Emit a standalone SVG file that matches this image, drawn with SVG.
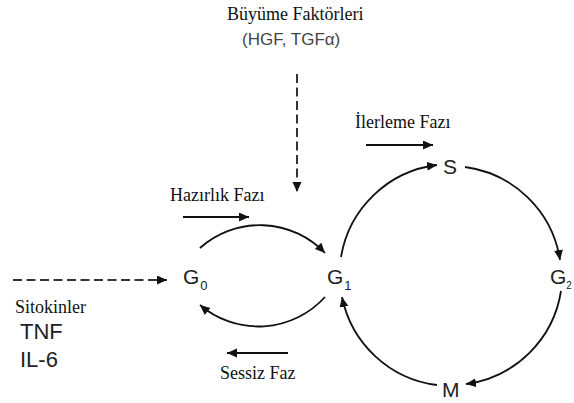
<svg xmlns="http://www.w3.org/2000/svg" width="574" height="403" viewBox="0 0 574 403">
  <style>
    .serif { font-family: "Liberation Serif", "Times New Roman", serif; font-size: 18px; fill: #111; }
    .sans { font-family: "Liberation Sans", Arial, sans-serif; fill: #222; }
    .node { font-size: 21px; }
    .sub { font-size: 13px; }
    .conn { fill: none; stroke: #111; stroke-width: 1.8; }
    .dash { fill: none; stroke: #333; stroke-width: 2; stroke-dasharray: 9 4.5; }
  </style>
  <defs>
    <marker id="ah" markerUnits="userSpaceOnUse" markerWidth="11" markerHeight="10" refX="10" refY="4.5" orient="auto">
      <path d="M0,0 L10,4.5 L0,9 z" fill="#111"/>
    </marker>
  </defs>

  <rect width="574" height="403" fill="#fff"/>

  <g id="labels">
    <text class="serif" x="227" y="20">Büyüme Faktörleri</text>
    <text class="sans" x="242" y="45" font-size="17" style="fill:#444">(HGF, TGFα)</text>
    <text class="serif" x="355" y="128">İlerleme Fazı</text>
    <text class="serif" x="170" y="201">Hazırlık Fazı</text>
    <text class="serif" x="220" y="379">Sessiz Faz</text>
    <text class="serif" x="15" y="313">Sitokinler</text>
    <text class="sans" x="20" y="339" font-size="22">TNF</text>
    <text class="sans" x="20" y="367" font-size="22">IL-6</text>
  </g>

  <g id="node-G0">
    <text class="sans node" x="183" y="284">G<tspan class="sub" dy="6" dx="1">0</tspan></text>
  </g>
  <g id="node-G1">
    <text class="sans node" x="327" y="284">G<tspan class="sub" dy="6" dx="1">1</tspan></text>
  </g>
  <g id="node-S">
    <text class="sans node" x="443" y="174">S</text>
  </g>
  <g id="node-G2">
    <text class="sans node" x="550" y="284">G<tspan font-size="10" dy="5">2</tspan></text>
  </g>
  <g id="node-M">
    <text class="sans node" x="442" y="397">M</text>
  </g>

  <g id="connectors">
    <path class="dash" d="M297,74 L297,192" marker-end="url(#ah)"/>
    <path class="dash" d="M13,280 L167,280" marker-end="url(#ah)"/>
    <path class="conn" d="M183,217 L249,217" marker-end="url(#ah)"/>
    <path class="conn" d="M366,145 L433,145" marker-end="url(#ah)"/>
    <path class="conn" d="M288,353 L227,353" marker-end="url(#ah)"/>
    <path class="conn" d="M200,248 A90,90 0 0 1 325,253" marker-end="url(#ah)"/>
    <path class="conn" d="M325,297 A90,90 0 0 1 200,305" marker-end="url(#ah)"/>
    <path class="conn" d="M341,257 A111,111 0 0 1 437,165" marker-end="url(#ah)"/>
    <path class="conn" d="M465,167 A111,111 0 0 1 560,260" marker-end="url(#ah)"/>
    <path class="conn" d="M561,291 A111,111 0 0 1 466,384" marker-end="url(#ah)"/>
    <path class="conn" d="M437,385 A111,111 0 0 1 342,297" marker-end="url(#ah)"/>
  </g>
</svg>
